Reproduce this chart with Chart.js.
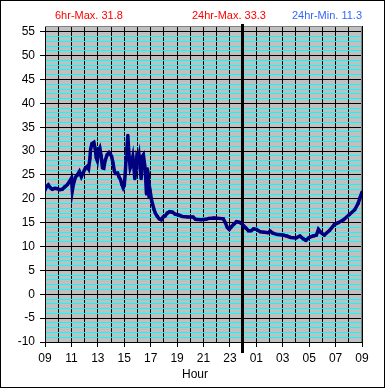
<!DOCTYPE html>
<html>
<head>
<meta charset="utf-8">
<script src="https://cdn.jsdelivr.net/npm/chart.js@4"></script>
<style>
  html, body { margin: 0; padding: 0; background: #fff; }
  #wrap { position: absolute; left: 0; top: 0; width: 385px; height: 388px; }
</style>
</head>
<body>
<div id="wrap"><canvas id="tempChart"></canvas></div>
<script>
// hour labels along the bottom (every 2 hours, starting 09:00)
const hourLabels = ['09', '11', '13', '15', '17', '19', '21', '23', '01', '03', '05', '07', '09'];

// hours since 09:00 and temperature readings
const hours = [
    0.00, 0.10, 0.25, 0.40, 0.55, 0.75, 0.95, 1.10, 1.30, 1.50, 1.70, 1.85,
    2.00, 2.07, 2.15, 2.30, 2.45, 2.60, 2.75, 2.90, 3.05, 3.20, 3.30, 3.40,
    3.45, 3.55, 3.70, 3.80, 3.88, 3.96, 4.05, 4.15, 4.25, 4.35, 4.45, 4.55,
    4.70, 4.85, 4.95, 5.05, 5.15, 5.25, 5.35, 5.50, 5.60, 5.72, 5.82, 5.92,
    6.00, 6.08, 6.14, 6.20, 6.27, 6.33, 6.38, 6.45, 6.55, 6.65, 6.72, 6.80,
    6.87, 6.95, 7.05, 7.12, 7.20, 7.28, 7.35, 7.45, 7.55, 7.62, 7.68, 7.75,
    7.82, 7.88, 7.95, 8.05, 8.15, 8.25, 8.35, 8.50, 8.65, 8.80, 8.95, 9.10,
    9.25, 9.45, 9.65, 9.85, 10.10, 10.40, 10.80, 11.20, 11.40, 11.80, 12.20, 12.40,
    12.80, 13.20, 13.50, 13.65, 13.80, 13.95, 14.10, 14.30, 14.50, 14.70, 14.90, 15.05,
    15.20, 15.40, 15.60, 15.80, 16.00, 16.30, 16.60, 16.90, 17.05, 17.25, 17.60, 18.00,
    18.30, 18.60, 19.00, 19.30, 19.55, 19.75, 20.00, 20.30, 20.55, 20.70, 20.90, 21.15,
    21.55, 21.90, 22.20, 22.60, 23.05, 23.45, 23.70, 23.85, 24.00
];
const temps = [
    21.8, 22.5, 22.9, 22.3, 22.0, 22.2, 22.1, 21.9, 22.0, 22.5, 23.0, 23.6,
    24.3, 21.7, 23.0, 24.5, 25.0, 25.7, 24.6, 25.5, 26.4, 26.8, 26.3, 28.5,
    30.3, 31.5, 31.8, 30.5, 28.6, 28.0, 30.0, 30.6, 29.0, 26.5, 26.4, 28.0,
    29.2, 29.7, 29.4, 28.8, 27.5, 25.8, 25.3, 25.4, 24.6, 24.0, 23.0, 22.3,
    22.8, 25.5, 28.5, 30.5, 33.3, 30.5, 28.5, 26.5, 27.3, 28.8, 27.0, 24.2,
    25.8, 28.7, 28.0, 29.0, 26.5, 24.2, 28.8, 29.2, 27.0, 24.5, 21.0, 26.3,
    25.0, 20.3, 21.8, 20.0, 18.8, 17.8, 17.0, 16.3, 15.8, 15.6, 16.2, 16.4,
    17.0, 17.3, 17.2, 16.8, 16.6, 16.3, 16.2, 16.2, 15.7, 15.6, 15.7, 15.9,
    16.0, 15.9, 15.8, 15.0, 14.0, 13.6, 14.1, 14.7, 15.2, 15.1, 14.8, 14.3,
    13.9, 13.3, 13.3, 13.7, 13.6, 13.1, 13.0, 12.9, 13.2, 12.8, 12.5, 12.4,
    12.2, 11.9, 11.8, 12.2, 11.6, 11.3, 11.9, 12.2, 12.4, 13.6, 12.9, 12.4,
    13.4, 14.6, 15.0, 15.6, 16.7, 17.7, 19.0, 20.2, 21.4
];

const sixHourMax = 31.8;
const dayMax = 33.3;
const dayMin = 11.3;
const midnightHour = 15;

const chartFont = 'Arial, "Liberation Sans", sans-serif';

// background, midnight marker, header texts and frame
const decorPlugin = {
    id: 'decor',
    beforeDraw(chart) {
        const ctx = chart.ctx;
        const a = chart.chartArea;
        ctx.save();
        ctx.fillStyle = '#ffffff';
        ctx.fillRect(0, 0, chart.width, chart.height);
        ctx.fillStyle = '#c0c0c0';
        ctx.fillRect(a.left, a.top, a.right - a.left, a.bottom - a.top);
        ctx.restore();
    },
    beforeDatasetsDraw(chart) {
        const ctx = chart.ctx;
        const a = chart.chartArea;
        const x = Math.round(chart.scales.x.getPixelForValue(midnightHour)) - 0.5;
        ctx.save();
        ctx.strokeStyle = '#808080';
        ctx.lineWidth = 1;
        ctx.beginPath();
        ctx.moveTo(a.left, a.top + 0.5);
        ctx.lineTo(a.right - 0.5, a.top + 0.5);
        ctx.lineTo(a.right - 0.5, a.bottom);
        ctx.stroke();
        ctx.strokeStyle = '#000000';
        ctx.lineWidth = 3;
        ctx.beginPath();
        ctx.moveTo(x, a.top - 2);
        ctx.lineTo(x, a.bottom + 11);
        ctx.stroke();
        ctx.restore();
    },
    afterDraw(chart) {
        const ctx = chart.ctx;
        ctx.save();
        ctx.font = '11px ' + chartFont;
        ctx.textBaseline = 'alphabetic';
        ctx.fillStyle = '#ff0000';
        ctx.textAlign = 'left';
        ctx.fillText('6hr-Max. ' + sixHourMax.toFixed(1), 55, 19);
        ctx.fillText('24hr-Max. ' + dayMax.toFixed(1), 192, 19);
        ctx.fillStyle = '#3366ff';
        ctx.textAlign = 'right';
        ctx.fillText('24hr-Min. ' + dayMin.toFixed(1), 362, 19);

        ctx.fillStyle = '#000000';
        ctx.font = '12px ' + chartFont;
        ctx.textAlign = 'center';
        ctx.fillText('Hour', 195, 378);

        ctx.strokeStyle = '#000000';
        ctx.lineWidth = 1;
        ctx.strokeRect(0.5, 0.5, chart.width - 1, chart.height - 1);
        ctx.restore();
    }
};

document.addEventListener('DOMContentLoaded', function() {
    const el = document.getElementById('tempChart');
    new Chart(el, {
        type: 'line',
        data: {
            datasets: [{
                data: hours.map((h, i) => ({ x: h, y: temps[i] })),
                borderColor: '#000080',
                backgroundColor: '#000080',
                borderWidth: 3.5,
                pointRadius: 2,
                pointStyle: 'rect',
                pointBorderWidth: 0,
                tension: 0
            }]
        },
        options: {
            responsive: true,
            maintainAspectRatio: false,
            animation: false,
            events: [],
            layout: { padding: { top: 26, right: 23, left: 0, bottom: 0 } },
            plugins: {
                legend: { display: false },
                tooltip: { enabled: false }
            },
            scales: {
                x: {
                    type: 'linear',
                    min: 0,
                    max: 24,
                    afterFit: function(scale) { scale.height = 46; },
                    border: { color: '#000000', width: 1 },
                    grid: {
                        color: '#000000',
                        lineWidth: 1,
                        tickLength: 5,
                        tickColor: ctx => (ctx.tick && ctx.tick.value % 2 === 0) ? '#000000' : 'rgba(0,0,0,0)'
                    },
                    ticks: {
                        stepSize: 1,
                        autoSkip: false,
                        maxRotation: 0,
                        padding: 4,
                        color: '#000000',
                        font: { family: chartFont, size: 12 },
                        callback: v => (v % 2 === 0) ? hourLabels[v / 2] : ''
                    }
                },
                y: {
                    min: -10,
                    max: 56.2,
                    afterFit: function(scale) { scale.width = 45; },
                    border: { color: '#000000', width: 1 },
                    grid: {
                        lineWidth: 1,
                        tickLength: 5,
                        color: ctx => {
                            const v = ctx.tick ? ctx.tick.value : 0;
                            if (!Number.isInteger(v)) return 'rgba(0,0,0,0)';
                            return v % 5 === 0 ? '#000000' : '#00ffff';
                        },
                        tickColor: ctx => (ctx.tick && Number.isInteger(ctx.tick.value) && ctx.tick.value % 5 === 0) ? '#000000' : 'rgba(0,0,0,0)'
                    },
                    ticks: {
                        stepSize: 1,
                        autoSkip: false,
                        padding: 5,
                        color: '#000000',
                        font: { family: chartFont, size: 12 },
                        callback: v => (Number.isInteger(v) && v % 5 === 0) ? String(v) : ''
                    }
                }
            }
        },
        plugins: [decorPlugin]
    });
});
</script>
</body>
</html>
